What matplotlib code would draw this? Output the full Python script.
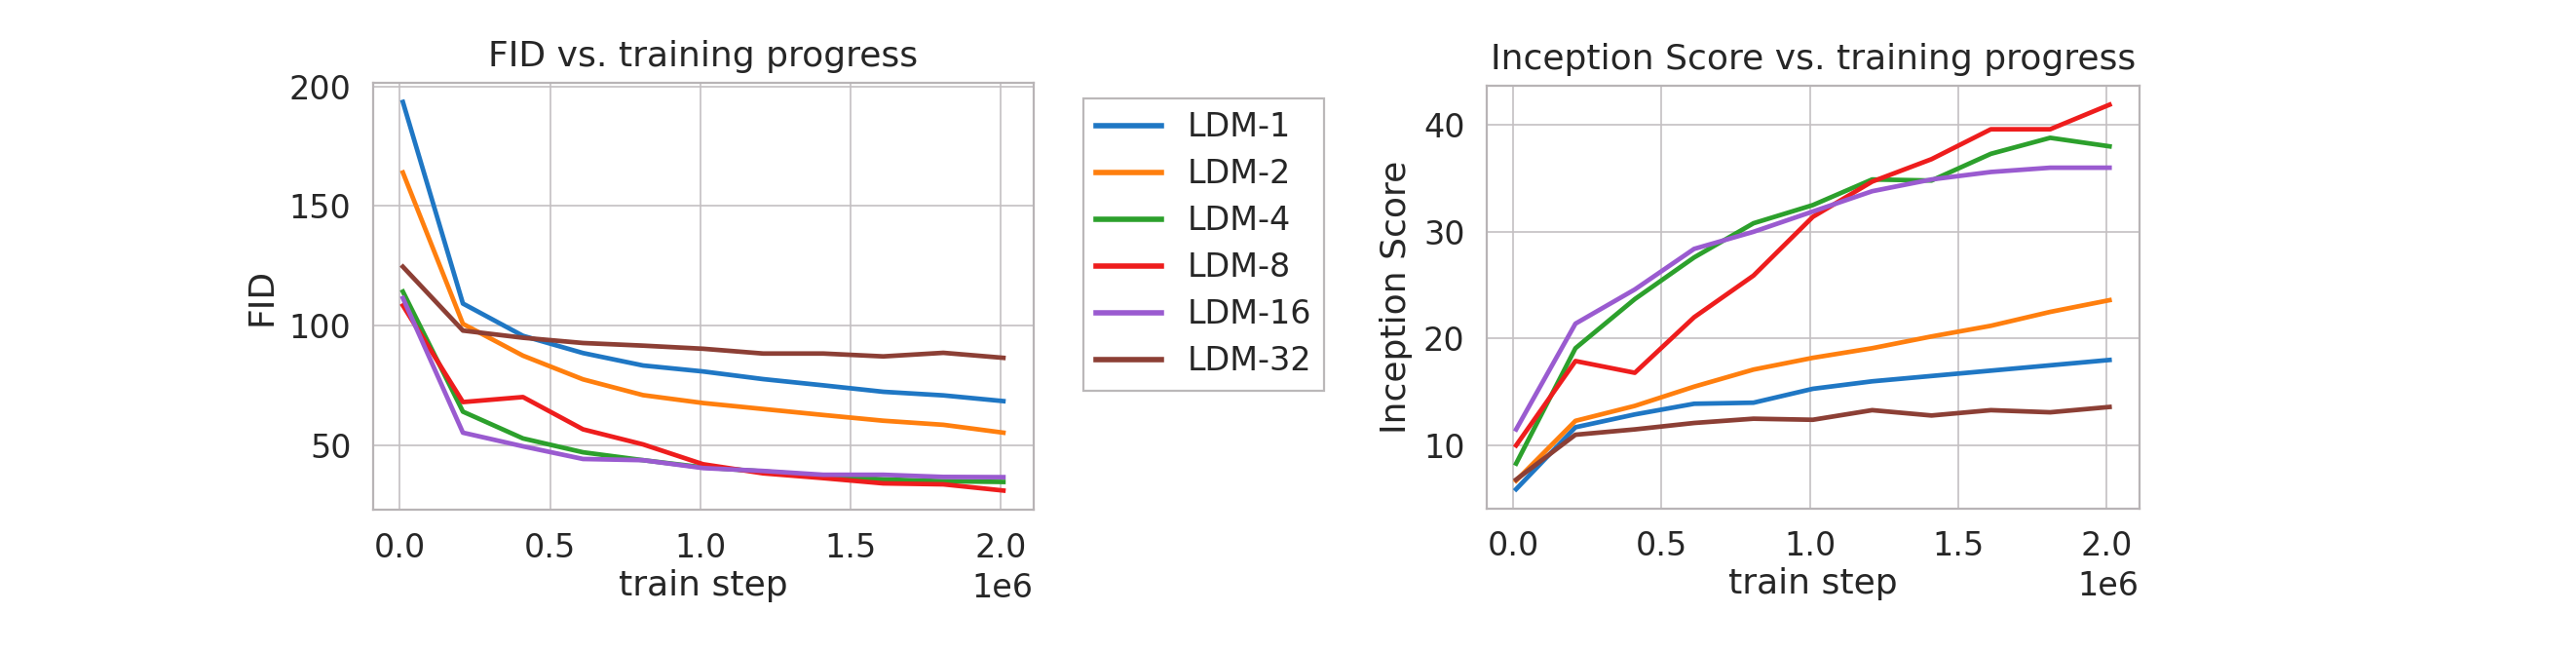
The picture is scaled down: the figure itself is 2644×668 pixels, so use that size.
import matplotlib
matplotlib.use("Agg")
import matplotlib.pyplot as plt

steps = [10000, 210000, 410000, 610000, 810000, 1010000, 1210000, 1410000, 1610000, 1810000, 2010000]
labels = ["LDM-1", "LDM-2", "LDM-4", "LDM-8", "LDM-16", "LDM-32"]
colors = ["#1f77c4", "#ff7f0e", "#2ca02c", "#ee1d1d", "#9a5bd0", "#8c3f35"]

fid_ldm1 = [193.5, 109.2, 95.7, 88.5, 83.3, 80.8, 77.6, 75.0, 72.3, 70.8, 68.4]
fid_ldm2 = [164.0, 100.7, 87.4, 77.5, 70.9, 67.6, 65.1, 62.6, 60.2, 58.5, 55.2]
fid_ldm4 = [114.2, 64.0, 52.8, 47.0, 43.7, 40.7, 39.0, 37.2, 35.7, 34.9, 34.6]
fid_ldm8 = [108.4, 68.0, 70.1, 56.6, 50.3, 42.0, 38.2, 36.2, 34.0, 33.6, 31.0]
fid_ldm16 = [111.5, 55.2, 49.5, 44.2, 43.7, 40.4, 39.2, 37.6, 37.6, 36.7, 36.6]
fid_ldm32 = [124.6, 97.9, 94.9, 92.7, 91.6, 90.3, 88.3, 88.3, 87.1, 88.6, 86.5]

is_ldm1 = [5.9, 11.7, 12.9, 13.9, 14.0, 15.3, 16.0, 16.5, 17.0, 17.5, 18.0]
is_ldm2 = [6.7, 12.3, 13.7, 15.5, 17.1, 18.2, 19.1, 20.2, 21.2, 22.5, 23.6]
is_ldm4 = [8.3, 19.1, 23.7, 27.6, 30.8, 32.5, 34.9, 34.8, 37.3, 38.8, 38.0]
is_ldm8 = [10.0, 17.9, 16.8, 22.0, 25.9, 31.4, 34.7, 36.8, 39.6, 39.6, 41.9]
is_ldm16 = [11.5, 21.4, 24.6, 28.4, 30.0, 31.9, 33.8, 34.9, 35.6, 36.0, 36.0]
is_ldm32 = [6.8, 11.0, 11.5, 12.1, 12.5, 12.4, 13.3, 12.8, 13.3, 13.1, 13.6]

fid_series = [fid_ldm1, fid_ldm2, fid_ldm4, fid_ldm8, fid_ldm16, fid_ldm32]
is_series = [is_ldm1, is_ldm2, is_ldm4, is_ldm8, is_ldm16, is_ldm32]

text_color = "#262626"
plt.rcParams.update({
    "font.family": "DejaVu Sans",
    "text.color": text_color,
    "axes.labelcolor": text_color,
    "xtick.color": text_color,
    "ytick.color": text_color,
})

fig = plt.figure(figsize=(13.22, 3.34), dpi=200)
ax1 = fig.add_axes([0.14474, 0.21662, 0.25643, 0.65659])
ax2 = fig.add_axes([0.57704, 0.21901, 0.25340, 0.64970])


def style(ax):
    ax.set_facecolor("white")
    ax.grid(True, color="#c4c0c2", linewidth=0.6)
    ax.set_axisbelow(True)
    for sp in ax.spines.values():
        sp.set_color("#b8b4b6")
        sp.set_linewidth(0.8)
    ax.tick_params(axis="both", which="both", length=0, labelsize=12, pad=8)
    ax.xaxis.get_offset_text().set_fontsize(12)


for ys, lab, c in zip(fid_series, labels, colors):
    ax1.plot(steps, ys, color=c, linewidth=1.7, label=lab)
style(ax1)
ax1.set_title("FID vs. training progress", fontsize=13, pad=6)
ax1.set_xlabel("train step", fontsize=13, labelpad=2)
ax1.set_ylabel("FID", fontsize=13)
ax1.set_yticks([50, 100, 150, 200])

for ys, lab, c in zip(is_series, labels, colors):
    ax2.plot(steps, ys, color=c, linewidth=1.7, label=lab)
style(ax2)
ax2.set_title("Inception Score vs. training progress", fontsize=13, pad=6)
ax2.set_xlabel("train step", fontsize=13, labelpad=2)
ax2.set_ylabel("Inception Score", fontsize=13)
ax2.set_yticks([10, 20, 30, 40])

leg = ax1.legend(loc="upper left", bbox_to_anchor=(0.42046, 0.84880),
                 bbox_transform=fig.transFigure, borderaxespad=0,
                 fontsize=12, frameon=True, fancybox=False,
                 handlelength=2.0, handletextpad=0.8, labelspacing=0.45,
                 borderpad=0.4)
leg.get_frame().set_edgecolor("#aaa6a8")
leg.get_frame().set_linewidth(0.8)
for line in leg.get_lines():
    line.set_linewidth(2.0)

fig.savefig("out.png", dpi=200, facecolor="white")
